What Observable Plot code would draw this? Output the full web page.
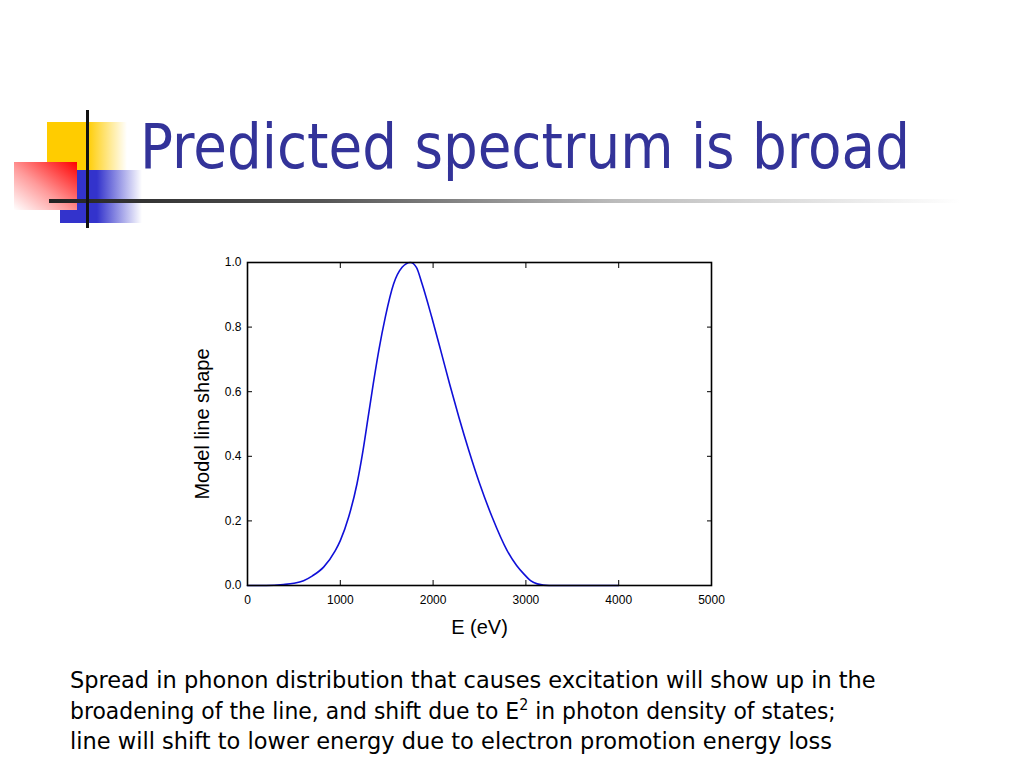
<!DOCTYPE html>
<html><head><meta charset="utf-8">
<script src="https://cdn.jsdelivr.net/npm/d3@7"></script>
<script src="https://cdn.jsdelivr.net/npm/@observablehq/plot@0.6"></script>
<style>
html,body{margin:0;padding:0;background:#fff;width:1024px;height:768px;overflow:hidden;}
#page{position:relative;width:1024px;height:768px;background:#fff;}
.abs{position:absolute;}
</style></head><body>
<div id="page">
  <div class="abs" style="left:47px;top:122px;width:80px;height:48px;background:linear-gradient(to right,#ffcc00 0%,#ffcc00 50%,rgba(255,204,0,0) 100%)"></div>
  <div class="abs" style="left:60px;top:170px;width:82px;height:53px;background:linear-gradient(to right,#3333cc 0%,#3333cc 45%,rgba(51,51,204,0) 100%)"></div>
  <div class="abs" style="left:14px;top:162px;width:63px;height:48px;background:linear-gradient(to bottom left,#ff0000 0%,#ff9a9a 55%,#ffffff 100%)"></div>
  <div class="abs" style="left:49px;top:199px;width:912px;height:4px;background:linear-gradient(to right,#222 0%,#555 30%,#bbb 62%,#fff 100%)"></div>
  <div class="abs" style="left:86px;top:110px;width:3px;height:118px;background:#111"></div>
  <svg id="txt" class="abs" style="left:0;top:0" width="1024" height="768"></svg>
  <div id="chart" class="abs" style="left:0;top:240px"></div>
</div>
<script>
// ---- data ----
const titleText = "Predicted spectrum is broad";
const xLabel = "E (eV)";
const yLabel = "Model line shape";
const bodyLines = [
  ["Spread in phonon distribution that causes excitation will show up in the"],
  ["broadening of the line, and shift due to E", "2", " in photon density of states;"],
  ["line will shift to lower energy due to electron promotion energy loss"]
];
const energy = [0, 200, 388, 500, 604, 700, 820, 946, 1000, 1090, 1180, 1245, 1300, 1355, 1415, 1485, 1575, 1666, 1755, 1820, 1881, 1985, 2082, 2178, 2278, 2385, 2502, 2636, 2798, 2900, 2977, 3050, 3122, 3250, 3500, 4000];
const shape  = [0, 0, 0.003, 0.007, 0.015, 0.03, 0.057, 0.108, 0.139, 0.212, 0.315, 0.418, 0.521, 0.624, 0.728, 0.831, 0.934, 0.985, 1.0, 0.985, 0.934, 0.831, 0.728, 0.624, 0.521, 0.418, 0.315, 0.212, 0.108, 0.062, 0.036, 0.015, 0.005, 0, 0, 0];
const xTicks = [0, 1000, 2000, 3000, 4000, 5000];
const yTicks = [0, 0.2, 0.4, 0.6, 0.8, 1.0];
const xInner = [1000, 2000, 3000, 4000];
const yInner = [0.2, 0.4, 0.6, 0.8];

const data = energy.map((e, i) => ({E: e, v: shape[i]}));

const chart = Plot.plot({
  width: 1024,
  height: 420,
  marginLeft: 247,
  marginRight: 313,
  marginTop: 22,
  marginBottom: 75,
  style: {fontFamily: "'Liberation Sans', Arial, sans-serif", fontSize: "12px", background: "transparent", color: "#000"},
  x: {domain: [0, 5000]},
  y: {domain: [0, 1]},
  marks: [
    Plot.line(data, {x: "E", y: "v", stroke: "#1010d8", strokeWidth: 1.6, curve: "monotone-x"}),
    Plot.frame({stroke: "#000", strokeWidth: 1.6}),
    Plot.axisX({anchor: "bottom", ticks: xInner, tickSize: 5, dy: -5, tickFormat: () => "", label: null, strokeWidth: 1}),
    Plot.axisX({anchor: "top", ticks: xInner, tickSize: 5, dy: 5, tickFormat: () => "", label: null, strokeWidth: 1}),
    Plot.axisY({anchor: "left", ticks: yInner, tickSize: 5, dx: 5, tickFormat: () => "", label: null, strokeWidth: 1}),
    Plot.axisY({anchor: "right", ticks: yInner, tickSize: 5, dx: -5, tickFormat: () => "", label: null, strokeWidth: 1}),
    Plot.axisX({anchor: "bottom", ticks: xTicks, tickSize: 0, tickPadding: 10, tickFormat: d3.format("d"), label: null}),
    Plot.axisY({anchor: "left", ticks: yTicks, tickSize: 0, tickPadding: 6, tickFormat: d3.format(".1f"), label: null}),
    Plot.text([xLabel], {frameAnchor: "bottom", dy: 48, text: d => d, fontSize: 20, textAnchor: "middle"}),
    Plot.text([yLabel], {frameAnchor: "left", dx: -45, rotate: -90, text: d => d, fontSize: 20, textAnchor: "middle"})
  ]
});
document.getElementById("chart").appendChild(chart);

// ---- title & body text ----
const svg = d3.select("#txt");
const font = "'DejaVu Sans', Tahoma, Verdana, sans-serif";
function fit(sel, x, target) {
  const w = sel.node().getBBox().width;
  const s = target / w;
  sel.attr("transform", `translate(${x},0) scale(${s},1) translate(${-x},0)`);
}
const t = svg.append("text").attr("x", 140).attr("y", 168)
  .attr("font-family", font).attr("font-size", 62).attr("fill", "#333399").text(titleText);
fit(t, 140, 770);

const baselines = [688, 719, 749];
const widths = [806, 766, 762];
bodyLines.forEach((parts, i) => {
  const el = svg.append("text").attr("x", 70).attr("y", baselines[i])
    .attr("font-family", font).attr("font-size", 23).attr("fill", "#000");
  if (parts.length === 1) el.text(parts[0]);
  else {
    el.append("tspan").text(parts[0]);
    el.append("tspan").attr("font-size", 15).attr("dy", -9).text(parts[1]);
    el.append("tspan").attr("dy", 9).text(parts[2]);
  }
  fit(el, 70, widths[i]);
});
</script>
</body></html>
